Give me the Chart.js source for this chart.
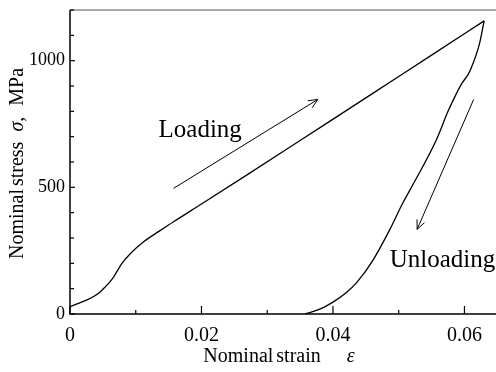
<!DOCTYPE html>
<html lang="en">
<head>
  <meta charset="UTF-8" />
  <title>Nominal stress-strain, loading and unloading</title>
  <script src="https://cdn.jsdelivr.net/npm/chart.js"></script>
  <style>
    html, body { margin: 0; padding: 0; background: #fff; }
    #wrap { width: 496px; height: 372px; }
  </style>
</head>
<body>
  <div id="wrap"><canvas id="ssChart"></canvas></div>

  <script>
    // loading branch (strain, stress MPa)
    const loadStrain = [0, 0.0015, 0.0031, 0.0045, 0.0054, 0.0060, 0.00665, 0.0079, 0.0092, 0.0112, 0.0137, 0.0158, 0.0200, 0.0274, 0.0350, 0.0450, 0.0550, 0.0630];
    const loadStress = [29, 44, 62, 85, 108, 125, 147, 200, 239, 285, 329, 365, 434, 557, 685, 853, 1022, 1157];

    // unloading branch
    const unloadStrain = [0.0357, 0.0380, 0.0400, 0.0420, 0.0436, 0.0461, 0.0486, 0.0506, 0.0517, 0.0557, 0.0575, 0.0587, 0.0597, 0.0605, 0.0610, 0.0623, 0.0630];
    const unloadStress = [0, 19, 47, 84, 124, 213, 331, 437, 489, 686, 800, 866, 914, 943, 969, 1068, 1157];

    // arrows (from -> to)
    const loadArrowStrain = [0.01575, 0.0377];
    const loadArrowStress = [496, 847];
    const unloadArrowStrain = [0.0614, 0.0528];
    const unloadArrowStress = [847, 334];

    // labels on the plot
    const noteTexts = ['Loading', 'Unloading'];
    const noteStrain = [0.01347, 0.04863];
    const noteStress = [697, 187];

    const SERIF = "'Liberation Serif', 'Times New Roman', serif";

    const pts = (xs, ys) => xs.map((x, i) => ({ x: x, y: ys[i] }));

    // draws pieces of text (numbers = gaps in px), centered at (cx, cy)
    function drawPieces(ctx, pieces, cx, cy, rot) {
      ctx.save();
      ctx.translate(cx, cy);
      ctx.rotate(rot);
      const w = p => {
        if (typeof p === 'number') return p;
        ctx.font = p[1];
        return ctx.measureText(p[0]).width;
      };
      let total = 0;
      pieces.forEach(p => { total += w(p); });
      let pos = -total / 2;
      ctx.textBaseline = 'middle';
      ctx.textAlign = 'left';
      pieces.forEach(p => {
        const pw = w(p);
        if (typeof p !== 'number') ctx.fillText(p[0], pos, 0);
        pos += pw;
      });
      ctx.restore();
    }

    function arrowHead(ctx, x0, y0, x1, y1, len) {
      const ang = Math.atan2(y1 - y0, x1 - x0);
      const spread = 0.42;
      ctx.beginPath();
      ctx.moveTo(x1 - len * Math.cos(ang - spread), y1 - len * Math.sin(ang - spread));
      ctx.lineTo(x1, y1);
      ctx.lineTo(x1 - len * Math.cos(ang + spread), y1 - len * Math.sin(ang + spread));
      ctx.stroke();
    }

    // axes frame, inward ticks, arrowheads, texts
    const decor = {
      id: 'decor',
      afterDraw(chart) {
        const { ctx, chartArea: a, scales: { x, y } } = chart;
        ctx.save();
        ctx.fillStyle = '#000';

        // top frame line
        ctx.strokeStyle = '#555';
        ctx.lineWidth = 1.2;
        ctx.beginPath();
        ctx.moveTo(a.left, a.top);
        ctx.lineTo(a.right, a.top);
        ctx.stroke();

        // left and bottom axes
        ctx.strokeStyle = '#000';
        ctx.lineWidth = 1.5;
        ctx.beginPath();
        ctx.moveTo(a.left, a.top);
        ctx.lineTo(a.left, a.bottom);
        ctx.lineTo(a.right, a.bottom);
        ctx.stroke();

        // ticks pointing inward
        ctx.lineWidth = 1.2;
        x.ticks.forEach(t => {
          const px = x.getPixelForValue(t.value);
          const len = t.label !== '' ? 8 : 4;
          ctx.beginPath();
          ctx.moveTo(px, a.bottom);
          ctx.lineTo(px, a.bottom - len);
          ctx.stroke();
        });
        y.ticks.forEach(t => {
          const py = y.getPixelForValue(t.value);
          const len = t.label !== '' ? 5 : 4;
          ctx.beginPath();
          ctx.moveTo(a.left, py);
          ctx.lineTo(a.left + len, py);
          ctx.stroke();
        });

        // arrowheads
        ctx.lineWidth = 1;
        [2, 3].forEach(i => {
          const d = chart.getDatasetMeta(i).data;
          arrowHead(ctx, d[0].x, d[0].y, d[1].x, d[1].y, 10);
        });

        // notes
        ctx.font = '25px ' + SERIF;
        ctx.textAlign = 'left';
        ctx.textBaseline = 'alphabetic';
        noteTexts.forEach((t, i) => {
          ctx.fillText(t, x.getPixelForValue(noteStrain[i]), y.getPixelForValue(noteStress[i]));
        });

        // axis titles
        const f = '20px ' + SERIF;
        const fi = 'italic 20px ' + SERIF;
        drawPieces(ctx, [['Nominal', f], 3, ['strain', f], 26, ['ε', fi]], 279, 357, 0);
        drawPieces(ctx, [['Nominal', f], 3, ['stress', f], 10, ['σ', fi], [',', f], 11, ['MPa', f]], 18, 163.5, -Math.PI / 2);

        ctx.restore();
      }
    };

    function crearGrafica() {
      const ctx = document.getElementById('ssChart').getContext('2d');
      new Chart(ctx, {
        type: 'scatter',
        data: {
          datasets: [
            {
              data: pts(loadStrain, loadStress),
              showLine: true, borderColor: '#000', borderWidth: 1.3,
              pointRadius: 0, cubicInterpolationMode: 'monotone'
            },
            {
              data: pts(unloadStrain, unloadStress),
              showLine: true, borderColor: '#000', borderWidth: 1.3,
              pointRadius: 0, cubicInterpolationMode: 'monotone'
            },
            {
              data: pts(loadArrowStrain, loadArrowStress),
              showLine: true, borderColor: '#000', borderWidth: 1, pointRadius: 0
            },
            {
              data: pts(unloadArrowStrain, unloadArrowStress),
              showLine: true, borderColor: '#000', borderWidth: 1, pointRadius: 0
            }
          ]
        },
        options: {
          responsive: true,
          maintainAspectRatio: false,
          animation: false,
          layout: { padding: { top: 10, right: 0, left: 0, bottom: 0 } },
          plugins: {
            legend: { display: false },
            tooltip: { enabled: false }
          },
          scales: {
            x: {
              type: 'linear',
              min: 0,
              max: 0.0648,
              grid: { display: false, drawTicks: false },
              border: { display: false },
              afterFit: s => { s.height = 58; s.paddingLeft = 0; s.paddingRight = 0; },
              ticks: {
                stepSize: 0.01,
                autoSkip: false,
                includeBounds: false,
                maxRotation: 0,
                padding: 10,
                color: '#000',
                font: { family: SERIF, size: 20 },
                callback: v => {
                  const k = Math.round(v * 100);
                  if (Math.abs(v * 100 - k) > 1e-6 || k % 2 !== 0) return '';
                  return k === 0 ? '0' : (k / 100).toFixed(2);
                }
              }
            },
            y: {
              min: 0,
              max: 1200,
              grid: { display: false, drawTicks: false },
              border: { display: false },
              afterFit: s => { s.width = 70; s.paddingTop = 0; s.paddingBottom = 0; },
              ticks: {
                stepSize: 100,
                autoSkip: false,
                padding: 5,
                color: '#000',
                font: { family: SERIF, size: 18 },
                callback: v => (v % 500 === 0 ? String(v) : '')
              }
            }
          }
        },
        plugins: [decor]
      });
    }

    crearGrafica();
  </script>
</body>
</html>
